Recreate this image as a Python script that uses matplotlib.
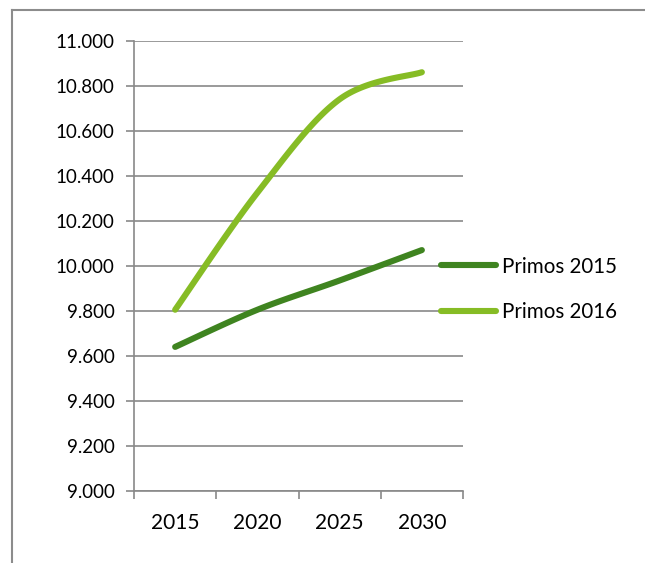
import numpy as np
import matplotlib.pyplot as plt
from matplotlib.lines import Line2D
from matplotlib.ticker import FuncFormatter

plt.rcParams['font.family'] = ['Lato', 'DejaVu Sans']

# data
years = ['2015', '2020', '2025', '2030']
primos_2015 = [9640, 9805, 9935, 10070]
primos_2016 = [9805, 10325, 10740, 10860]

dark_green = '#3f8420'
light_green = '#86bc25'
grid_gray = '#898989'


def smooth(xs, ys, n=40):
    # Excel-like smoothed line: cubic bezier with catmull-rom style control points
    xs = np.asarray(xs, float)
    ys = np.asarray(ys, float)
    px = np.concatenate([[xs[0]], xs, [xs[-1]]])
    py = np.concatenate([[ys[0]], ys, [ys[-1]]])
    out_x, out_y = [], []
    t = np.linspace(0, 1, n)
    for i in range(1, len(px) - 2):
        p0 = np.array([px[i], py[i]])
        p3 = np.array([px[i + 1], py[i + 1]])
        c1 = p0 + (np.array([px[i + 1], py[i + 1]]) - np.array([px[i - 1], py[i - 1]])) / 6
        c2 = p3 - (np.array([px[i + 2], py[i + 2]]) - np.array([px[i], py[i]])) / 6
        b = ((1 - t) ** 3)[:, None] * p0 + (3 * (1 - t) ** 2 * t)[:, None] * c1 \
            + (3 * (1 - t) * t ** 2)[:, None] * c2 + (t ** 3)[:, None] * p3
        out_x.extend(b[:, 0])
        out_y.extend(b[:, 1])
    return out_x, out_y


fig = plt.figure(figsize=(6.45, 5.63), dpi=100)
ax = fig.add_axes([0.2078, 0.1279, 0.5100, 0.7998])

x = np.arange(len(years))
sx, sy = smooth(x, primos_2015)
ax.plot(sx, sy, color=dark_green, lw=4.4, solid_capstyle='round', label='Primos 2015', zorder=3)
sx, sy = smooth(x, primos_2016)
ax.plot(sx, sy, color=light_green, lw=4.4, solid_capstyle='round', label='Primos 2016', zorder=3)

ax.set_xlim(-0.5, len(years) - 0.5)
ax.set_ylim(9000, 11000)
ax.set_yticks(np.arange(9000, 11001, 200))
ax.yaxis.set_major_formatter(FuncFormatter(lambda v, p: f'{v:,.0f}'.replace(',', '.')))
ax.set_xticks(x)
ax.set_xticklabels(years)
ax.set_xticks(np.arange(-0.5, len(years)), minor=True)

ax.grid(axis='y', color=grid_gray, lw=1.2)
ax.set_axisbelow(True)
for s in ['top', 'right']:
    ax.spines[s].set_visible(False)
for s in ['left', 'bottom']:
    ax.spines[s].set_color(grid_gray)
    ax.spines[s].set_linewidth(1.2)

ax.tick_params(axis='y', length=6, width=1.2, color=grid_gray, labelsize=13.5, pad=8)
ax.tick_params(axis='x', which='major', length=0, labelsize=15, pad=16)
ax.tick_params(axis='x', which='minor', length=6, width=1.2, color=grid_gray)

ax.legend(loc='center left', bbox_to_anchor=(0.6837, 0.4858), bbox_transform=fig.transFigure,
          frameon=False, fontsize=14.8, handlelength=2.7, handletextpad=0.25,
          borderpad=0, borderaxespad=0, labelspacing=1.25)

# outer chart border
border = dict(color='#8c8c8c', lw=1.5, transform=fig.transFigure)
fig.add_artist(Line2D([12 / 645, 12 / 645], [0, 1 - 10 / 563], **border))
fig.add_artist(Line2D([12 / 645, 1], [1 - 10 / 563, 1 - 10 / 563], **border))

fig.savefig('out.png', dpi=100)
